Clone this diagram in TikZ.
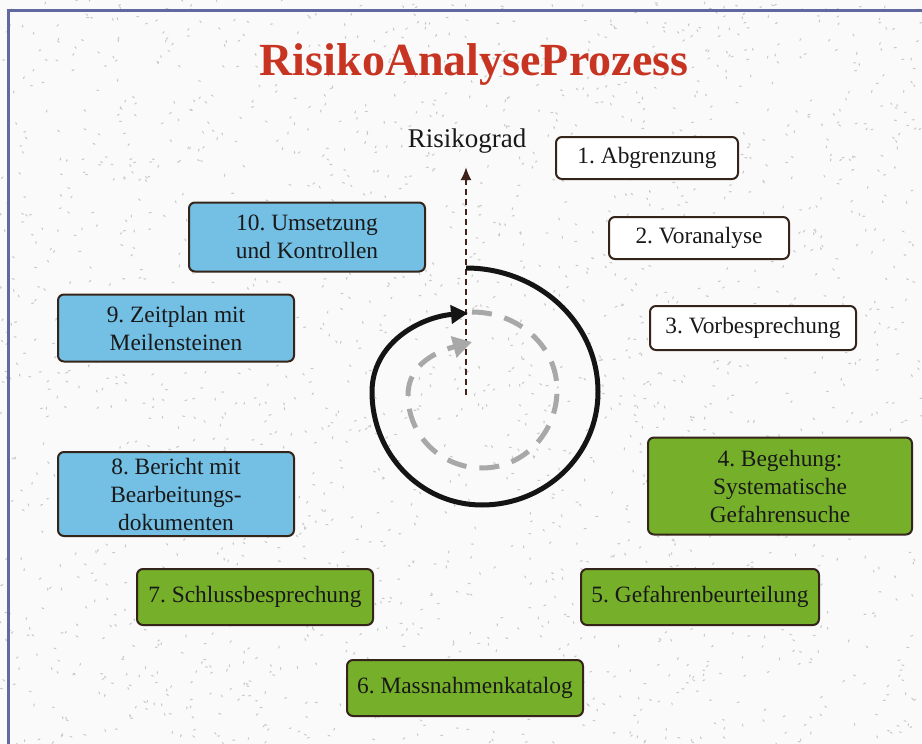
\documentclass[tikz,border=0pt]{standalone}
\usepackage{fontspec}
\setmainfont{Liberation Serif}
\usepackage{tikz}
\usepackage{xcolor}
\usetikzlibrary{arrows, arrows.meta, calc}

\definecolor{boxblue}{RGB}{116,191,228}
\definecolor{boxgreen}{RGB}{118,176,42}
\definecolor{boxline}{RGB}{52,36,26}
\definecolor{titlered}{RGB}{200,52,34}
\definecolor{framecol}{RGB}{98,104,160}
\definecolor{speck}{RGB}{200,200,200}
\definecolor{ringgray}{RGB}{168,168,168}
\definecolor{gradcol}{RGB}{62,34,28}

\tikzset{
  stepbox/.style={draw=boxline, line width=2pt, rounded corners=6pt, inner sep=0pt,
    align=center, text=black!90, font=\fontsize{23.4}{28}\selectfont},
  whitebox/.style={stepbox, fill=white},
  bluebox/.style={stepbox, fill=boxblue},
  greenbox/.style={stepbox, fill=boxgreen},
  outerring/.style={line width=5pt, black!92, -{Triangle[length=17pt,width=18pt]}},
  innerring/.style={line width=5pt, ringgray, dash pattern=on 20pt off 13pt,
    -{Triangle[length=19pt,width=21pt]}},
  gradarrow/.style={line width=2pt, gradcol, dash pattern=on 6pt off 4pt,
    -{Latex[length=13pt,width=11pt]}},
}

\begin{document}
\frenchspacing
\begin{tikzpicture}[x=1pt,y=-1pt]
        \useasboundingbox (0,0) rectangle (922,744);
        \fill[black!2] (0,0) rectangle (922,744);

        % speckled paper
        \pgfmathsetseed{42}
        \foreach \i in {1,...,2200}
            \fill[speck] ({rnd*922},{rnd*744}) circle[x radius=1.8, y radius=0.7, rotate={rnd*180}];

        \draw[framecol, line width=3pt] (922,10) -- (8,10) -- (8,744);

        \node[titlered, font=\fontsize{46}{50}\selectfont\bfseries, anchor=base] (title) at (474,75) {RisikoAnalyseProzess};

        % steps, right side
        \node[whitebox, minimum width=182pt, minimum height=42pt] (s1) at (647,158) {1. Abgrenzung};
        \node[whitebox, minimum width=180pt, minimum height=42pt] (s2) at (699,238) {2. Voranalyse};
        \node[whitebox, minimum width=206pt, minimum height=44pt] (s3) at (753,328) {3. Vorbesprechung};
        \node[greenbox, minimum width=264pt, minimum height=97pt] (s4) at (780,486) {4. Begehung:\\Systematische\\Gefahrensuche};
        \node[greenbox, minimum width=238pt, minimum height=56pt] (s5) at (700,597) {5. Gefahrenbeurteilung};
        \node[greenbox, minimum width=236pt, minimum height=56pt] (s6) at (465,688) {6. Massnahmenkatalog};
        % steps, left side
        \node[greenbox, minimum width=236pt, minimum height=56pt] (s7) at (255,597) {7. Schlussbesprechung};
        \node[bluebox, minimum width=236pt, minimum height=84pt] (s8) at (176,494) {8. Bericht mit\\Bearbeitungs-\\dokumenten};
        \node[bluebox, minimum width=236pt, minimum height=67pt] (s9) at (176,328) {9. Zeitplan mit\\Meilensteinen};
        \node[bluebox, minimum width=236pt, minimum height=69pt] (s10) at (307,237) {10. Umsetzung\\und Kontrollen};

        % risk axis
        \node[font=\fontsize{27}{30}\selectfont, text=black!90, anchor=base, inner sep=2pt] (grad) at (467,147) {Risikograd};
        \coordinate (origin) at (466,395);
        \draw[gradarrow] (origin) -- (origin |- grad.south) [shorten >=12pt];

        % spirals
        \draw[innerring] (472,312) to[out=0,in=90] (557,390) to[out=-90,in=0] (482,468)
            to[out=180,in=-90] (408,395) to[out=90,in=195] (472,342);
        \draw[outerring] (466,268) to[out=0,in=90] (598,392) to[out=-90,in=0] (482,505)
            to[out=180,in=-90] (372,392) to[out=90,in=185] (468,313);
\end{tikzpicture}
\end{document}
